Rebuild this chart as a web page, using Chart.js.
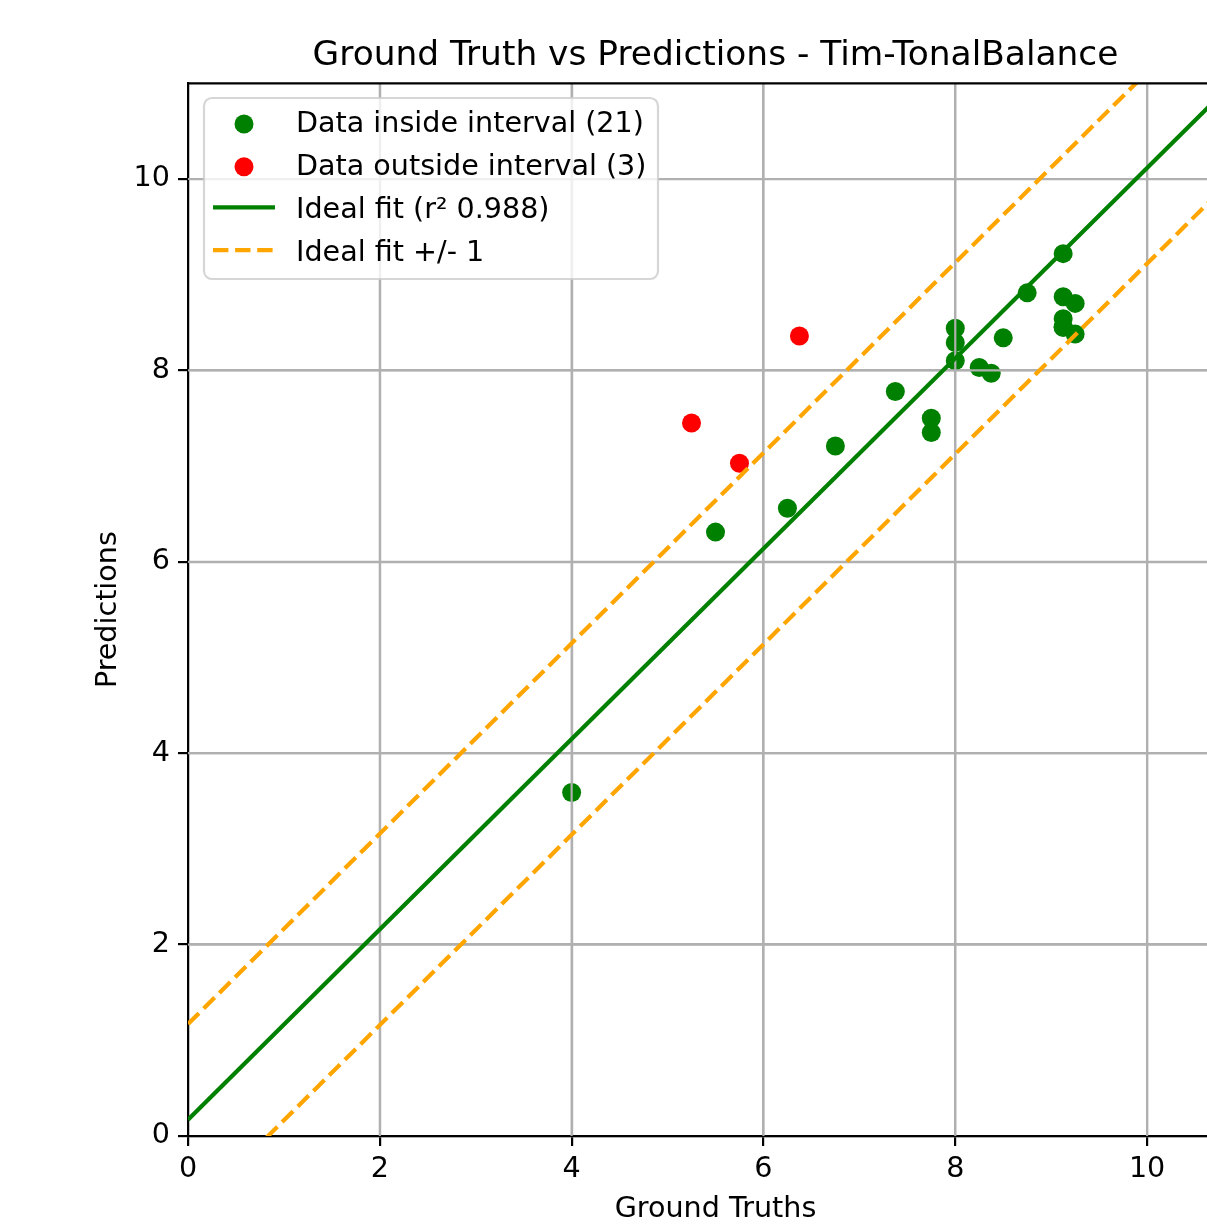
<!DOCTYPE html>
<html>
<head>
<meta charset="utf-8">
<script src="https://cdn.jsdelivr.net/npm/chart.js@4.4.1/dist/chart.umd.min.js"></script>
<style>
  html, body { margin: 0; padding: 0; background: #fff; overflow: hidden; }
  #wrap { width: 1300px; height: 1230px; }
</style>
</head>
<body>
<div id="wrap"><canvas id="chart"></canvas></div>
<script>
// ── DATA ─────────────────────────────────────────────────────
var insideX = [4.0, 5.5, 6.25, 6.75, 7.375, 7.75, 7.75, 8.0, 8.0, 8.0, 8.25, 8.375, 8.5, 8.75, 9.125, 9.125, 9.25, 9.125, 9.125, 9.25, 9.125];
var insideY = [3.59, 6.31, 6.56, 7.21, 7.78, 7.50, 7.35, 8.44, 8.29, 8.10, 8.03, 7.97, 8.34, 8.81, 9.22, 8.77, 8.70, 8.54, 8.45, 8.38, 8.45];
var outsideX = [5.25, 5.75, 6.375];
var outsideY = [7.45, 7.03, 8.36];

var fitX = [0, 11];
var fitY = [0.17, 11.11];
var upperY = [1.17, 12.11];
var lowerY = [-0.83, 10.11];

var xTicks = [0, 2, 4, 6, 8, 10];
var yTicks = [0, 2, 4, 6, 8, 10];

var r2 = '0.988';

// ── HELPERS ──────────────────────────────────────────────────
function toPoints(xs, ys) {
  return xs.map(function (x, i) { return { x: x, y: ys[i] }; });
}

var FONT = '"DejaVu Sans", "Liberation Sans", sans-serif';
var GRID = '#b0b0b0';
var TXT = 28.6;

// grid over the scatter markers but under the lines (matplotlib zorder)
var gridOverScatter = {
  id: 'gridOverScatter',
  afterDatasetDraw: function (chart, args) {
    if (args.index !== 1) return;
    var ctx = chart.ctx, a = chart.chartArea;
    var xs = chart.scales.x, ys = chart.scales.y;
    ctx.save();
    ctx.beginPath();
    ctx.rect(a.left, a.top, a.right - a.left, a.bottom - a.top);
    ctx.clip();
    ctx.strokeStyle = GRID;
    ctx.lineWidth = 2.2;
    xTicks.forEach(function (v) {
      if (v === 0) return;
      var px = xs.getPixelForValue(v);
      ctx.beginPath(); ctx.moveTo(px, a.top); ctx.lineTo(px, a.bottom); ctx.stroke();
    });
    yTicks.forEach(function (v) {
      if (v === 0) return;
      var py = ys.getPixelForValue(v);
      ctx.beginPath(); ctx.moveTo(a.left, py); ctx.lineTo(a.right, py); ctx.stroke();
    });
    ctx.restore();
  }
};

// top / right spines + matplotlib style legend box
var framePlugin = {
  id: 'framePlugin',
  afterDraw: function (chart) {
    var ctx = chart.ctx, a = chart.chartArea;
    ctx.save();
    ctx.strokeStyle = '#000';
    ctx.lineWidth = 2.2;
    ctx.beginPath();
    ctx.moveTo(a.left, a.top); ctx.lineTo(a.right, a.top); ctx.lineTo(a.right, a.bottom);
    ctx.stroke();

    // legend
    var bx = 204, by = 98, bw = 454, bh = 181;
    ctx.beginPath();
    ctx.roundRect(bx, by, bw, bh, 8);
    ctx.fillStyle = 'rgba(255,255,255,0.8)';
    ctx.fill();
    ctx.strokeStyle = 'rgba(204,204,204,0.8)';
    ctx.lineWidth = 2.2;
    ctx.stroke();

    ctx.font = TXT + 'px ' + FONT;
    ctx.textBaseline = 'middle';
    ctx.textAlign = 'left';
    var row = 0;
    chart.data.datasets.forEach(function (ds) {
      if (!ds.label) return;
      var rowY = 123 + row * 42.7;
      row++;
      if (ds.type === 'scatter') {
        ctx.beginPath();
        ctx.arc(244, rowY + 1, 9.5, 0, Math.PI * 2);
        ctx.fillStyle = ds.backgroundColor;
        ctx.fill();
      } else {
        ctx.beginPath();
        ctx.setLineDash(ds.borderDash || []);
        ctx.strokeStyle = ds.borderColor;
        ctx.lineWidth = ds.borderWidth;
        ctx.moveTo(213, rowY - 1); ctx.lineTo(275, rowY - 1);
        ctx.stroke();
        ctx.setLineDash([]);
      }
      ctx.fillStyle = '#000';
      ctx.fillText(ds.label, 296, rowY + 2);
    });
    ctx.restore();
  }
};

function fixedTicks(values) {
  return function (scale) {
    scale.ticks = values.map(function (v) { return { value: v }; });
  };
}

var lineCommon = { type: 'line', pointRadius: 0, borderWidth: 4.2, fill: false, clip: 0, tension: 0 };

var chart = new Chart(document.getElementById('chart'), {
  data: {
    datasets: [
      { type: 'scatter', label: 'Data inside interval (' + insideX.length + ')', data: toPoints(insideX, insideY),
        backgroundColor: '#008000', borderWidth: 0, pointRadius: 9.5, order: 5 },
      { type: 'scatter', label: 'Data outside interval (' + outsideX.length + ')', data: toPoints(outsideX, outsideY),
        backgroundColor: '#ff0000', borderWidth: 0, pointRadius: 9.5, order: 4 },
      Object.assign({}, lineCommon, { label: 'Ideal fit (r\u00b2 ' + r2 + ')', data: toPoints(fitX, fitY),
        borderColor: '#008000', order: 3 }),
      Object.assign({}, lineCommon, { label: 'Ideal fit +/- 1', data: toPoints(fitX, upperY),
        borderColor: '#ffa500', borderDash: [15.4, 6.7], order: 2 }),
      // lower band shares the legend entry above
      Object.assign({}, lineCommon, { label: '', data: toPoints(fitX, lowerY),
        borderColor: '#ffa500', borderDash: [15.4, 6.7], order: 1 })
    ]
  },
  options: {
    responsive: true,
    maintainAspectRatio: false,
    animation: false,
    devicePixelRatio: 1,
    layout: { padding: { left: 0, right: 57, top: 0, bottom: 0 } },
    plugins: {
      legend: { display: false },
      tooltip: { enabled: false },
      title: {
        display: true,
        text: 'Ground Truth vs Predictions - Tim-TonalBalance',
        fullSize: false,
        color: '#000',
        font: { family: FONT, size: 34.4, weight: 'normal' },
        padding: { top: 35, bottom: 7 }
      }
    },
    scales: {
      x: {
        type: 'linear', position: 'bottom', min: 0, max: 11,
        afterBuildTicks: fixedTicks(xTicks),
        afterFit: function (s) { s.height = 94; },
        grid: { color: GRID, lineWidth: 2.2, tickLength: 10, tickColor: '#000', tickWidth: 2.2 },
        border: { color: '#000', width: 2.2 },
        ticks: { color: '#000', font: { family: FONT, size: TXT }, padding: 6, maxRotation: 0,
          callback: function (v) { return String(v); } },
        title: { display: true, text: 'Ground Truths', color: '#000',
          font: { family: FONT, size: TXT }, padding: { top: 0, bottom: 3 } }
      },
      y: {
        type: 'linear', position: 'left', min: 0, max: 11,
        afterBuildTicks: fixedTicks(yTicks),
        afterFit: function (s) { s.width = 188; },
        grid: { color: GRID, lineWidth: 2.2, tickLength: 10, tickColor: '#000', tickWidth: 2.2 },
        border: { color: '#000', width: 2.2 },
        ticks: { color: '#000', font: { family: FONT, size: TXT }, padding: 8,
          callback: function (v) { return String(v); } },
        title: { display: true, text: 'Predictions', color: '#000',
          font: { family: FONT, size: TXT }, padding: { top: 91, bottom: 0 } }
      }
    }
  },
  plugins: [gridOverScatter, framePlugin]
});
</script>
</body>
</html>
